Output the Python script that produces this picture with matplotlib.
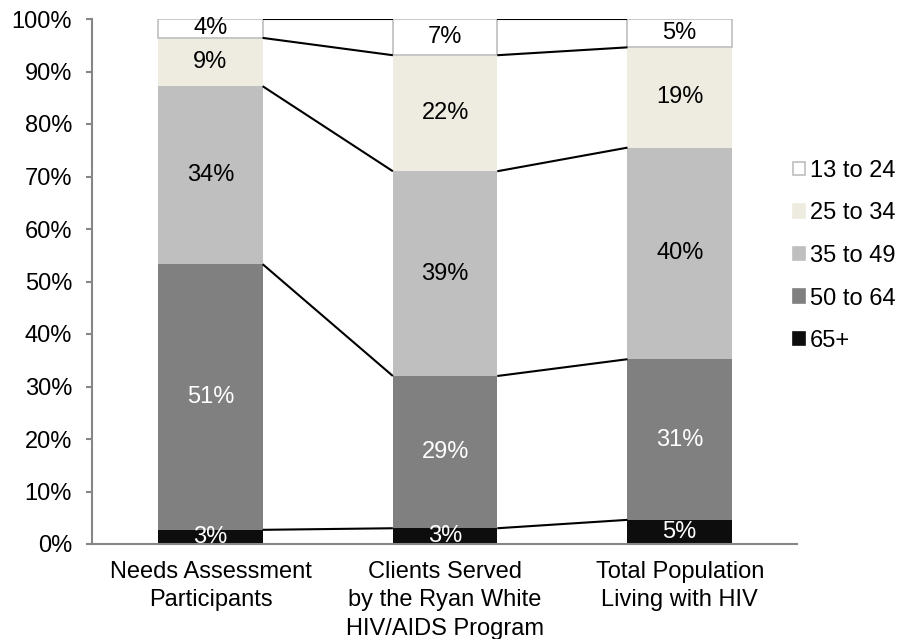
import matplotlib
matplotlib.use("Agg")
import matplotlib.pyplot as plt
from matplotlib.patches import Patch
import numpy as np

plt.rcParams['font.family'] = ['Liberation Sans', 'DejaVu Sans']

categories = ["Needs Assessment\nParticipants",
              "Clients Served\nby the Ryan White\nHIV/AIDS Program",
              "Total Population\nLiving with HIV"]

# Age group shares (%) per population, bottom to top
age_65_plus = [2.7, 3.0, 4.6]
age_50_64 = [50.6, 29.0, 30.6]
age_35_49 = [33.9, 39.0, 40.3]
age_25_34 = [9.2, 22.1, 19.1]
age_13_24 = [3.6, 6.9, 5.4]

series_names = ["65+", "50 to 64", "35 to 49", "25 to 34", "13 to 24"]
series_values = [age_65_plus, age_50_64, age_35_49, age_25_34, age_13_24]
fill_colors = ["#0D0D0D", "#808080", "#BFBFBF", "#EEECE1", "#FFFFFF"]
edge_colors = ["none", "none", "none", "none", "#BFBFBF"]
text_colors = ["white", "white", "black", "black", "black"]

fig = plt.figure(figsize=(9.13, 6.39), dpi=100)
W, H = 913, 639
x0, x1, y0, y1 = 91.5, 797.0, 544.0, 19.0   # plot area in pixels
ax = fig.add_axes([x0 / W, (H - y0) / H, (x1 - x0) / W, (y0 - y1) / H])

x = np.arange(len(categories))
bar_w = 0.445
bottom = np.zeros(len(categories))
fs = 17

for name, vals, fc, ec, tc in zip(series_names, series_values, fill_colors,
                                  edge_colors, text_colors):
    vals = np.array(vals, dtype=float)
    ax.bar(x, vals, bar_w, bottom=bottom, color=fc, edgecolor=ec,
           linewidth=1.2 if ec != "none" else 0, label=name, zorder=2)
    tops = bottom + vals
    # connector lines between adjacent bars at each segment top
    for i in range(len(x) - 1):
        ax.plot([x[i] + bar_w / 2, x[i + 1] - bar_w / 2], [tops[i], tops[i + 1]],
                color="black", linewidth=1.5, zorder=3, solid_capstyle="butt")
    for xi, b, v in zip(x, bottom, vals):
        ax.text(xi, b + v / 2, f"{round(v):d}%", ha="center", va="center",
                color=tc, fontsize=fs, zorder=4, clip_on=False)
    bottom = tops

ax.set_xlim(-0.507, 2.5)
ax.set_ylim(0, 100)
ax.set_yticks(np.arange(0, 101, 10))
ax.set_yticklabels([f"{t}%" for t in range(0, 101, 10)], fontsize=fs)
ax.set_xticks(x)
ax.set_xticklabels(categories, fontsize=fs, linespacing=1.38)
ax.tick_params(axis="x", length=0, pad=12)
ax.tick_params(axis="y", length=4, width=1.5, color="#868686",
               direction="out", pad=10)

for s in ["top", "right"]:
    ax.spines[s].set_visible(False)
for s in ["left", "bottom"]:
    ax.spines[s].set_color("#868686")
    ax.spines[s].set_linewidth(1.5)
ax.spines["bottom"].set_zorder(3)

handles = [Patch(facecolor=fc, edgecolor=(ec if ec != "none" else fc), linewidth=1.2)
           for fc, ec in zip(fill_colors, edge_colors)]
leg = fig.legend(handles[::-1], series_names[::-1], loc="center left",
                 bbox_to_anchor=(793 / W, (H - 256) / H), frameon=False,
                 fontsize=fs, handlelength=0.5, handleheight=0.5,
                 handletextpad=0.22, labelspacing=0.87, borderpad=0,
                 borderaxespad=0)

fig.savefig("out.png", dpi=100)
